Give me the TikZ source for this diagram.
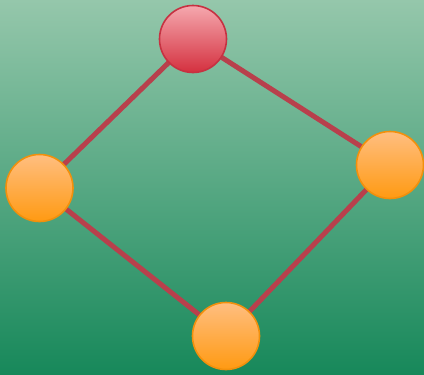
\documentclass[tikz,border=0pt]{standalone}
\usetikzlibrary{shadings}
\definecolor{bgtop}{HTML}{95C7AB}
\definecolor{bgbot}{HTML}{17885A}
\definecolor{edgec}{HTML}{B8404C}
\definecolor{redtop}{HTML}{F5A8AE}
\definecolor{redbot}{HTML}{D4303F}
\definecolor{redline}{HTML}{C63242}
\definecolor{ortop}{HTML}{FFBE80}
\definecolor{orbot}{HTML}{FF9A12}
\definecolor{orline}{HTML}{F2900C}
\pgfdeclarelayer{bglayer}
\pgfdeclarelayer{edgelayer}
\pgfsetlayers{bglayer,edgelayer,main}
\begin{document}
\begin{tikzpicture}[x=1pt,y=-1pt,
  redball/.style={circle,minimum size=67pt,inner sep=0pt,top color=redtop,bottom color=redbot,draw=redline,line width=1.6pt},
  orball/.style={circle,minimum size=67pt,inner sep=0pt,top color=ortop,bottom color=orbot,draw=orline,line width=1.6pt},
  link/.style={draw=edgec,line width=5pt}]
\useasboundingbox (0,0) rectangle (424,375);
\node[redball] (t) at (193,39) {};
\node[orball] (l) at (39.5,188) {};
\node[orball] (r) at (390,165) {};
\node[orball] (b) at (226,336) {};
\begin{pgfonlayer}{bglayer}
\shade[top color=bgtop,bottom color=bgbot] (0,0) rectangle (424,375);
\end{pgfonlayer}
\begin{pgfonlayer}{edgelayer}
\draw[link] (t.center) -- (l.center);
\draw[link] (t.center) -- (r.center);
\draw[link] (l.center) -- (b.center);
\draw[link] (r.center) -- (b.center);
\end{pgfonlayer}
\end{tikzpicture}
\end{document}
